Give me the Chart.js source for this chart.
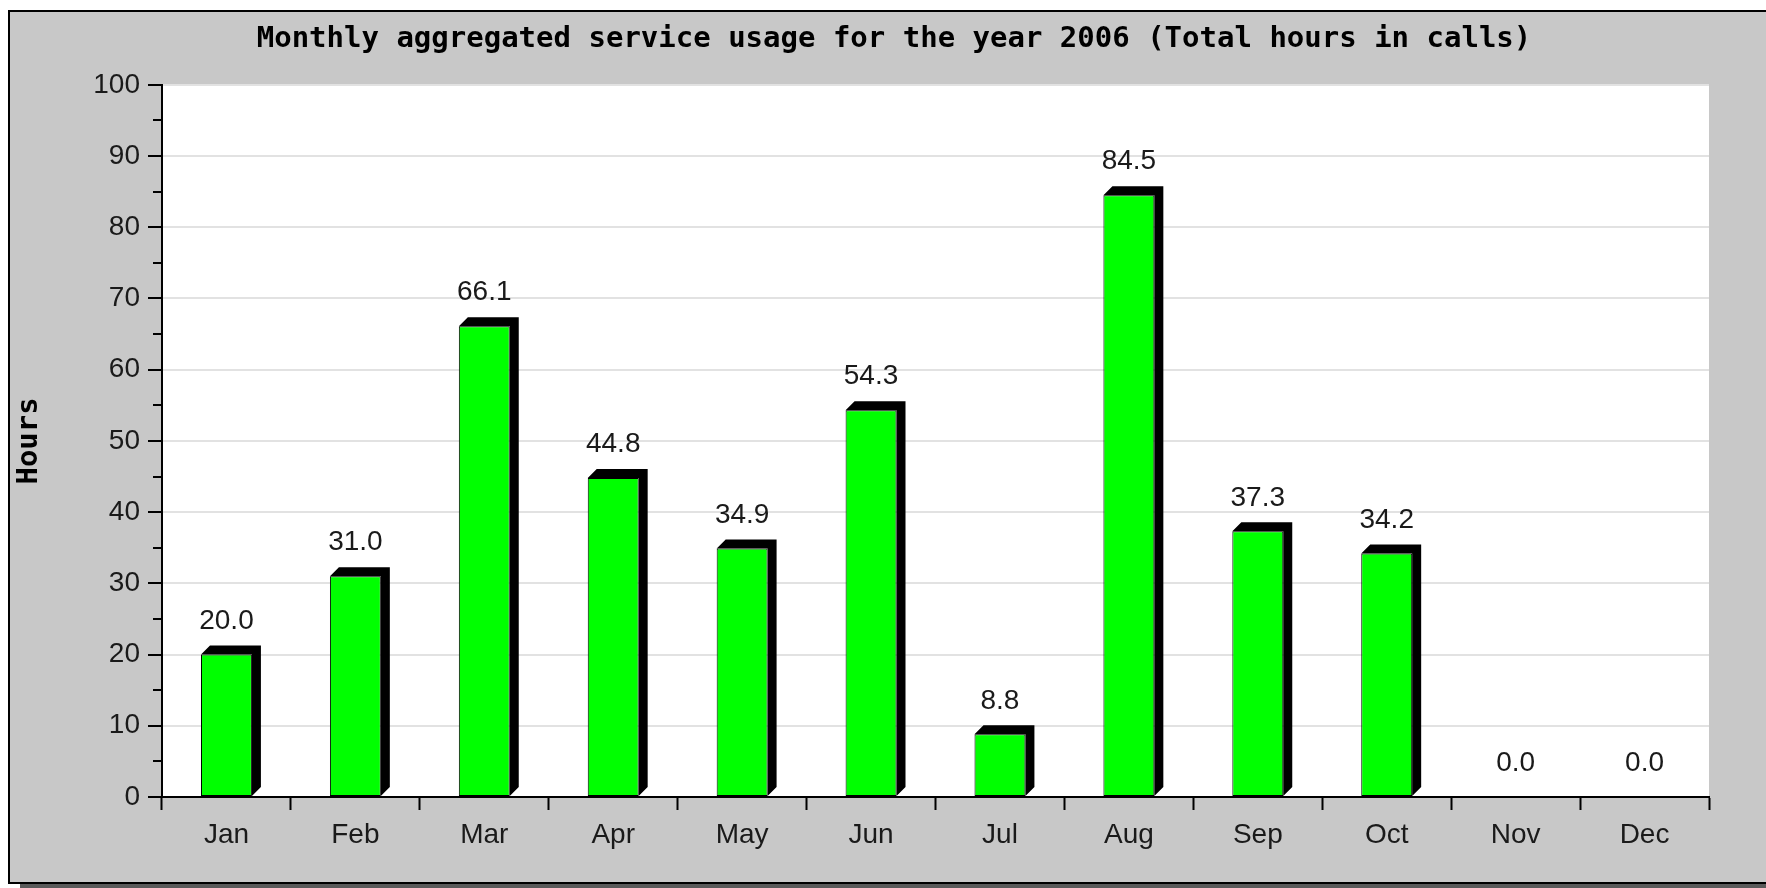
<!DOCTYPE html>
<html>
<head>
<meta charset="utf-8">
<script src="https://cdn.jsdelivr.net/npm/chart.js@4/dist/chart.umd.min.js"></script>
<style>
  html, body { margin: 0; padding: 0; background: #ffffff; }
  #wrap { width: 1766px; height: 888px; }
</style>
</head>
<body>
<div id="wrap"><canvas id="c" width="1766" height="888"></canvas></div>
<script>
const titleText = 'Monthly aggregated service usage for the year 2006 (Total hours in calls)';
const yAxisTitle = 'Hours';
const months = ['Jan', 'Feb', 'Mar', 'Apr', 'May', 'Jun', 'Jul', 'Aug', 'Sep', 'Oct', 'Nov', 'Dec'];
const hours = [20.0, 31.0, 66.1, 44.8, 34.9, 54.3, 8.8, 84.5, 37.3, 34.2, 0.0, 0.0];
const yMin = 0;
const yMax = 100;
const yStep = 10;
const yMinorTicks = [5, 15, 25, 35, 45, 55, 65, 75, 85, 95];

const MONO = '"DejaVu Sans Mono", "Liberation Mono", monospace';
const SANS = '"Liberation Sans", Arial, sans-serif';
const DEPTH = 9;

const backgroundPlugin = {
  id: 'panel',
  beforeDraw(chart) {
    const ctx = chart.ctx;
    const W = chart.width, H = chart.height;
    const a = chart.chartArea;
    ctx.save();
    ctx.fillStyle = '#ffffff';
    ctx.fillRect(0, 0, W, H);
    ctx.fillStyle = '#5a5a5a';
    ctx.fillRect(20, 884, W - 20, 4);
    ctx.fillStyle = '#c8c8c8';
    ctx.fillRect(8, 10, W - 8, 874);
    ctx.fillStyle = '#000000';
    ctx.fillRect(8, 10, W - 8, 2);
    ctx.fillRect(8, 10, 2, 874);
    ctx.fillRect(8, 882, W - 8, 2);
    ctx.fillStyle = '#ffffff';
    ctx.fillRect(a.left, a.top, a.right - a.left, a.bottom - a.top);
    ctx.restore();
  }
};

const minorTickPlugin = {
  id: 'minorTicks',
  afterDraw(chart) {
    const ctx = chart.ctx;
    const ys = chart.scales.y;
    const left = chart.chartArea.left;
    ctx.save();
    ctx.strokeStyle = '#000000';
    ctx.lineWidth = 2;
    yMinorTicks.forEach(v => {
      const py = Math.round(ys.getPixelForValue(v));
      ctx.beginPath();
      ctx.moveTo(left - 9, py);
      ctx.lineTo(left, py);
      ctx.stroke();
    });
    ctx.restore();
  }
};

const bar3dPlugin = {
  id: 'bar3d',
  beforeDatasetsDraw(chart) {
    const ctx = chart.ctx;
    const meta = chart.getDatasetMeta(0);
    ctx.save();
    ctx.fillStyle = '#000000';
    meta.data.forEach((bar, i) => {
      if (!hours[i]) return;
      const p = bar.getProps(['x', 'y', 'base', 'width'], true);
      const l = p.x - p.width / 2, r = p.x + p.width / 2;
      ctx.beginPath();
      ctx.moveTo(l, p.y);
      ctx.lineTo(l + DEPTH, p.y - DEPTH);
      ctx.lineTo(r + DEPTH, p.y - DEPTH);
      ctx.lineTo(r + DEPTH, p.base - DEPTH);
      ctx.lineTo(r, p.base);
      ctx.lineTo(r, p.y);
      ctx.closePath();
      ctx.fill();
    });
    ctx.restore();
  },
  afterDatasetsDraw(chart) {
    const ctx = chart.ctx;
    const meta = chart.getDatasetMeta(0);
    ctx.save();
    ctx.fillStyle = '#1a1a1a';
    ctx.font = '28px ' + SANS;
    ctx.textAlign = 'center';
    ctx.textBaseline = 'middle';
    meta.data.forEach((bar, i) => {
      const p = bar.getProps(['x', 'y'], true);
      ctx.fillText(hours[i].toFixed(1), p.x, p.y - 33.5);
    });
    ctx.restore();
  }
};

new Chart(document.getElementById('c'), {
  type: 'bar',
  data: {
    labels: months,
    datasets: [{
      data: hours,
      backgroundColor: '#00ff00',
      borderColor: '#000000',
      borderWidth: ctx => (hours[ctx.dataIndex] ? 1 : 0),
      borderSkipped: false,
      categoryPercentage: 1.0,
      barPercentage: 0.395
    }]
  },
  options: {
    responsive: false,
    animation: false,
    devicePixelRatio: 1,
    layout: { padding: { left: 0, right: -22, top: 0, bottom: 0 } },
    plugins: {
      legend: { display: false },
      tooltip: { enabled: false },
      title: {
        display: true,
        text: titleText,
        color: '#000000',
        font: { family: MONO, size: 29, weight: 'bold', lineHeight: 1.2 },
        padding: { top: 22, bottom: 28 }
      }
    },
    scales: {
      x: {
        offset: true,
        grid: {
          display: true,
          offset: true,
          drawOnChartArea: false,
          drawTicks: true,
          tickLength: 13,
          tickColor: '#000000',
          tickWidth: 2,
          color: '#000000'
        },
        border: { display: true, color: '#000000', width: 2 },
        ticks: {
          color: '#1a1a1a',
          font: { family: SANS, size: 28 },
          padding: 8,
          maxRotation: 0,
          autoSkip: false
        },
        afterFit: s => { s.height = 91; }
      },
      y: {
        position: 'left',
        min: yMin,
        max: yMax,
        ticks: {
          stepSize: yStep,
          color: '#1a1a1a',
          font: { family: SANS, size: 28 },
          padding: 8
        },
        grid: {
          color: '#e2e2e2',
          lineWidth: 2,
          tickColor: '#000000',
          tickWidth: 2,
          tickLength: 14
        },
        border: { display: true, color: '#000000', width: 2 },
        title: {
          display: true,
          text: yAxisTitle,
          color: '#000000',
          font: { family: MONO, size: 29, weight: 'bold', lineHeight: 1.2 },
          padding: { top: 12, bottom: 0 }
        },
        afterFit: s => { s.width = 162; }
      },
      yRight: {
        position: 'right',
        display: true,
        grid: { display: false, drawTicks: false },
        border: { display: false },
        ticks: { display: false },
        afterFit: s => { s.width = 79; }
      }
    }
  },
  plugins: [backgroundPlugin, bar3dPlugin, minorTickPlugin]
});
</script>
</body>
</html>
